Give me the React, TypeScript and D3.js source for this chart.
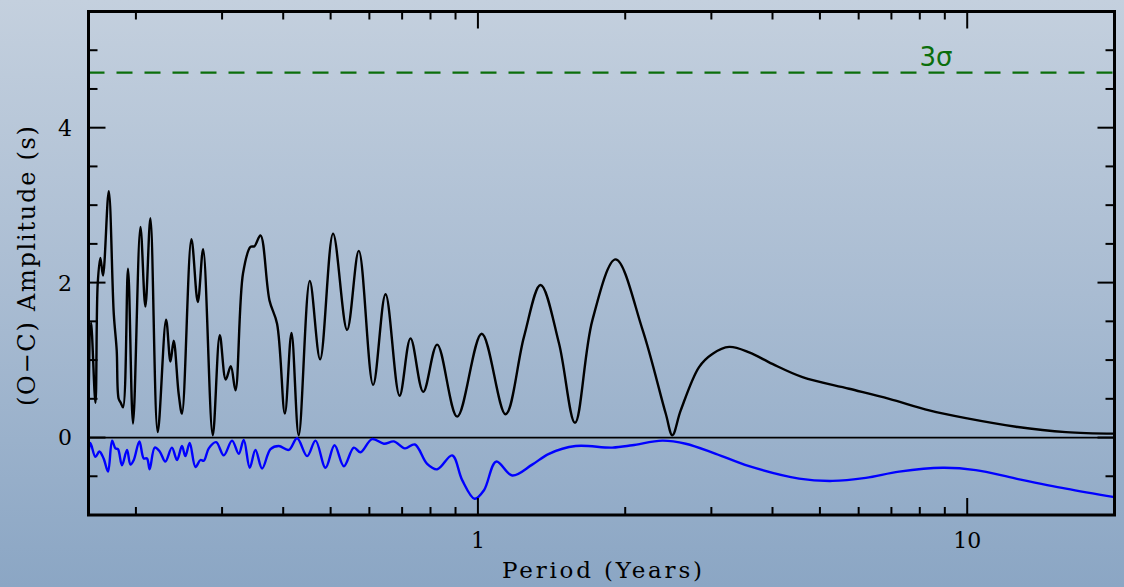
import React from "react";
import * as d3 from "d3";

// Black curve: (O-C) amplitude periodogram vs period (years)
const blackPeriods = [
  0.16, 0.1619, 0.1653, 0.1671, 0.1692, 0.1713, 0.176, 0.1802, 0.1827, 0.1844, 0.1862, 0.1882,
  0.1927, 0.1973, 0.2043, 0.2091, 0.2141, 0.2216, 0.2305, 0.2353, 0.2389, 0.2446, 0.2484,
  0.2597, 0.2676, 0.2744, 0.2871, 0.2968, 0.3052, 0.3126, 0.3195, 0.3311, 0.3429, 0.3494,
  0.3594, 0.375, 0.3886, 0.4031, 0.4159, 0.4303, 0.4533, 0.4759, 0.5058, 0.5403, 0.5709,
  0.6107, 0.6475, 0.6916, 0.7282, 0.7731, 0.8256, 0.9072, 1.018, 1.139, 1.242, 1.343, 1.464,
  1.579, 1.713, 1.912, 2.168, 2.42, 2.497, 2.597, 2.831, 3.014, 3.262, 3.583, 3.998, 4.606,
  5.738, 6.927, 8.363, 9.938, 12.58, 15.92, 20.0,
];
const blackValues = [
  0.4, 1.49, 0.45, 1.99, 2.32, 2.09, 3.18, 1.6, 1.13, 0.5, 0.45, 0.39,
  2.18, 0.18, 2.72, 1.69, 2.83, 0.07, 1.52, 0.98, 1.25, 0.56, 0.31,
  2.56, 1.75, 2.43, 0.03, 1.32, 0.75, 0.92, 0.61, 2.12, 2.46, 2.47,
  2.61, 1.77, 1.47, 0.31, 1.35, 0.03, 2.02, 1.01, 2.63, 1.39, 2.41,
  0.68, 1.85, 0.54, 1.28, 0.59, 1.2, 0.27, 1.34, 0.3, 1.3, 1.97, 1.22,
  0.19, 1.51, 2.3, 1.4, 0.31, 0.03, 0.35, 0.91, 1.08, 1.17, 1.1, 0.95, 0.78,
  0.63, 0.5, 0.35, 0.25, 0.14, 0.07, 0.05,
];

// Blue curve
const bluePeriods = [
  0.16, 0.1614, 0.1653, 0.1684, 0.1718, 0.1754, 0.1788, 0.1816, 0.1838, 0.1873, 0.1918, 0.1949,
  0.198, 0.2033, 0.2075, 0.2107, 0.2134, 0.2185, 0.2237, 0.2297, 0.2369, 0.2427, 0.2484, 0.2524,
  0.2576, 0.2647, 0.271, 0.2753, 0.2818, 0.2917, 0.3024, 0.3144, 0.3245, 0.3322, 0.3417, 0.351,
  0.3622, 0.3768, 0.3918, 0.4106, 0.427, 0.4477, 0.4657, 0.4882, 0.5093, 0.5321, 0.5577, 0.5755,
  0.6077, 0.6423, 0.6736, 0.709, 0.7433, 0.7874, 0.8256, 0.8858, 0.9287, 0.9847, 1.029, 1.09,
  1.175, 1.291, 1.397, 1.584, 1.882, 2.068, 2.382, 2.659, 3.063, 3.583, 4.533, 5.303, 6.206,
  7.259, 8.903, 10.41, 12.58, 15.92, 20.0,
];
const blueValues = [
  -0.21, -0.07, -0.25, -0.18, -0.27, -0.44, -0.04, -0.14, -0.15, -0.36, -0.16, -0.35,
  -0.29, -0.05, -0.27, -0.27, -0.41, -0.13, -0.18, -0.31, -0.13, -0.29, -0.11, -0.24,
  -0.07, -0.38, -0.29, -0.3, -0.14, -0.06, -0.23, -0.04, -0.21, -0.03, -0.39, -0.16,
  -0.4, -0.15, -0.11, -0.16, -0.01, -0.24, -0.04, -0.39, -0.1, -0.37, -0.13, -0.19,
  -0.02, -0.08, -0.05, -0.14, -0.09, -0.34, -0.41, -0.23, -0.55, -0.79, -0.68, -0.31,
  -0.49, -0.35, -0.21, -0.11, -0.13, -0.1, -0.04, -0.08, -0.21, -0.37, -0.53, -0.56, -0.52,
  -0.44, -0.39, -0.42, -0.53, -0.66, -0.77,
];

const sigma3 = 4.71;
const yMajorTicks = [0, 2, 4];
const yMinorTicks = [-0.5, 0.5, 1, 1.5, 2.5, 3, 3.5, 4.5, 5];
const xMajorTicks = [1, 10];
const xMinorTicks = [0.2, 0.3, 0.4, 0.5, 0.6, 0.7, 0.8, 0.9, 2, 3, 4, 5, 6, 7, 8, 9];

const W = 1124;
const H = 587;
const L = 88.5, R = 1114.5, T = 11.5, B = 515;

export default function App() {
  const x = d3.scaleLog().domain([0.16, 20]).range([L, R]);
  const y = d3.scaleLinear().domain([-1, 5.5]).range([B, T]);

  const line = d3
    .line<[number, number]>()
    .x((d) => x(d[0]))
    .y((d) => y(d[1]))
    .curve(d3.curveCatmullRom.alpha(0.5));

  const blackData = blackPeriods.map((p, i) => [p, blackValues[i]] as [number, number]);
  const blueData = bluePeriods.map((p, i) => [p, blueValues[i]] as [number, number]);

  const font = "'DejaVu Serif', 'Liberation Serif', serif";

  return (
    <svg
      width={W}
      height={H}
      style={{ position: "absolute", left: 0, top: 0, display: "block" }}
    >
      <defs>
        <linearGradient id="bg" x1="0" y1="0" x2="0" y2="1">
          <stop offset="0" stopColor="#c4d0de" />
          <stop offset="0.5" stopColor="#a9bcd2" />
          <stop offset="1" stopColor="#8ba6c4" />
        </linearGradient>
        <clipPath id="plot">
          <rect x={L} y={T} width={R - L} height={B - T} />
        </clipPath>
      </defs>
      <rect x={0} y={0} width={W} height={H} fill="url(#bg)" />

      {/* 3 sigma line */}
      <line
        x1={L}
        x2={R}
        y1={y(sigma3)}
        y2={y(sigma3)}
        stroke="#0b6e0b"
        strokeWidth={2.2}
        strokeDasharray="16 12"
      />
      <text
        x={936}
        y={66}
        fill="#0b6e0b"
        fontFamily="'DejaVu Sans', sans-serif"
        fontSize={26}
        textAnchor="middle"
      >
        3σ
      </text>

      {/* zero line */}
      <line x1={L} x2={R} y1={y(0)} y2={y(0)} stroke="#000" strokeWidth={1.8} />

      <g clipPath="url(#plot)">
        <path d={line(blueData) || ""} fill="none" stroke="#0000ff" strokeWidth={2.4} strokeLinejoin="round" />
        <path d={line(blackData) || ""} fill="none" stroke="#000" strokeWidth={2.4} strokeLinejoin="round" />
      </g>

      {/* ticks */}
      <g stroke="#000" strokeWidth={2}>
        {yMajorTicks.map((t) => (
          <g key={"ym" + t}>
            <line x1={L} x2={L + 17} y1={y(t)} y2={y(t)} />
            <line x1={R} x2={R - 17} y1={y(t)} y2={y(t)} />
          </g>
        ))}
        {yMinorTicks.map((t) => (
          <g key={"yn" + t}>
            <line x1={L} x2={L + 9} y1={y(t)} y2={y(t)} />
            <line x1={R} x2={R - 9} y1={y(t)} y2={y(t)} />
          </g>
        ))}
        {xMajorTicks.map((t) => (
          <g key={"xm" + t}>
            <line x1={x(t)} x2={x(t)} y1={B} y2={B - 17} />
            <line x1={x(t)} x2={x(t)} y1={T} y2={T + 17} />
          </g>
        ))}
        {xMinorTicks.map((t) => (
          <g key={"xn" + t}>
            <line x1={x(t)} x2={x(t)} y1={B} y2={B - 8} />
            <line x1={x(t)} x2={x(t)} y1={T} y2={T + 8} />
          </g>
        ))}
      </g>

      {/* frame */}
      <rect x={L} y={T} width={R - L} height={B - T} fill="none" stroke="#000" strokeWidth={3} />

      {/* tick labels */}
      <g fontFamily={font} fontSize={22} fill="#000" textAnchor="middle">
        {yMajorTicks.map((t) => (
          <text key={"yl" + t} x={65} y={y(t)} dy="0.36em">
            {t}
          </text>
        ))}
        {xMajorTicks.map((t) => (
          <text key={"xl" + t} x={x(t)} y={540} dy="0.36em">
            {t}
          </text>
        ))}
      </g>

      {/* axis titles */}
      <text
        x={602}
        y={578}
        textAnchor="middle"
        fontFamily={font}
        fontSize={23}
        fill="#000"
        textLength={200}
        lengthAdjust="spacing"
      >
        Period (Years)
      </text>
      <text
        transform="translate(35,266) rotate(-90)"
        textAnchor="middle"
        fontFamily={font}
        fontSize={24}
        fill="#000"
        textLength={280}
        lengthAdjust="spacing"
      >
        (O−C) Amplitude (s)
      </text>
    </svg>
  );
}
